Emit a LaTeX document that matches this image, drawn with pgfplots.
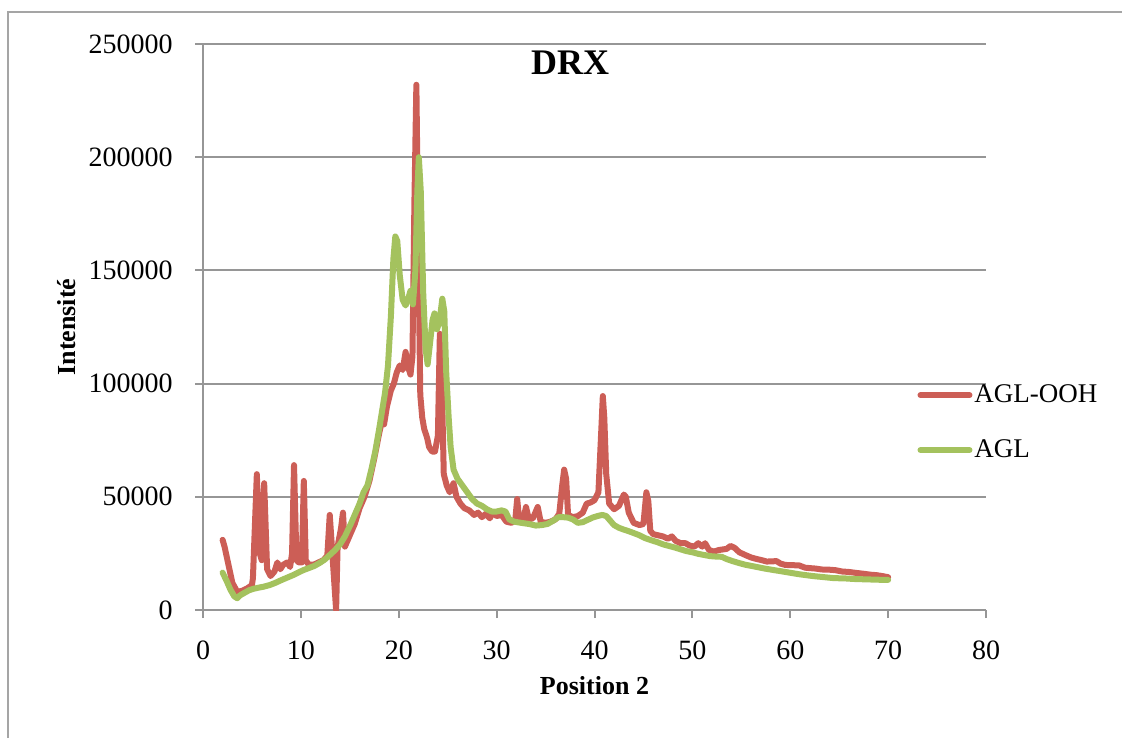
\documentclass[border=0pt]{standalone}
\usepackage{fontspec}
\setmainfont{Liberation Serif}
\usepackage{pgfplots}
\pgfplotsset{compat=1.18}
\definecolor{redS}{RGB}{204,94,86}
\definecolor{greenS}{RGB}{164,194,94}
\definecolor{gridc}{RGB}{150,150,150}
\definecolor{framec}{RGB}{165,165,165}
\begin{document}
\begin{tikzpicture}
\useasboundingbox (0,0) rectangle (561pt,369pt);
\draw[framec, line width=1pt] (4pt,0pt) -- (4pt,363pt) -- (561pt,363pt);
\begin{axis}[
  at={(101.5pt,64pt)}, anchor=south west,
  scale only axis, width=391.5pt, height=283pt,
  xmin=0, xmax=80, ymin=0, ymax=250000,
  xtick={0,10,...,80}, ytick={0,50000,...,250000},
  scaled y ticks=false,
  /pgf/number format/fixed, /pgf/number format/1000 sep={},
  /pgf/number format/assume math mode=true,
  axis x line*=bottom, axis y line*=left,
  axis line style={gridc, line width=1pt, -},
  ymajorgrids, major grid style={gridc, line width=1pt},
  tick align=outside, major tick length=4pt,
  tick style={gridc, line width=1pt},
  tick label style={font=\fontsize{14}{16}\selectfont, black},
  yticklabel style={xshift=-7.7pt},
  xticklabel style={yshift=-7.7pt},
  title={DRX},
  title style={at={(axis description cs:0.469,0.946)}, anchor=center, font=\bfseries\fontsize{18}{20}\selectfont},
  xlabel={Position 2},
  xlabel style={at={(axis description cs:0.5,-0.134)}, anchor=center, font=\bfseries\fontsize{13}{15}\selectfont},
  ylabel={Intensité},
  ylabel style={at={(axis description cs:-0.174,0.5)}, anchor=center, font=\bfseries\fontsize{13}{15}\selectfont},
  legend style={at={(axis description cs:0.912,0.331)}, anchor=west, draw=none, fill=none,
    font=\fontsize{13.5}{16}\selectfont, row sep=15pt, inner sep=0pt,
    nodes={inner sep=1pt}},
  legend cell align=left,
  legend image code/.code={\draw[#1, line width=3pt, line cap=round] (1.5pt,0pt) -- (26pt,0pt);},
  every axis plot/.append style={line width=3pt, line join=round, line cap=round},
]
\addplot[redS, mark=none] coordinates {
(2.0,31000)(2.2,28000)(2.5,22000)(3.0,12000)(3.5,8000)(4.0,8500)(4.5,9500)(5.0,11000)(5.1,14000)
(5.5,60000)(5.8,25000)(6.0,22000)(6.25,56000)(6.55,18000)(6.9,15000)(7.3,17000)(7.6,21000)(7.9,18000)
(8.2,20000)(8.6,21000)(8.9,19000)(9.1,25000)(9.3,64000)(9.55,22000)(9.8,21000)(10.1,21000)(10.3,57000)
(10.5,22000)(10.8,20000)(11.3,20000)(11.8,21000)(12.3,22000)(12.7,24000)(12.95,42000)(13.2,26000)
(13.6,0)(13.75,28000)(14.1,36000)(14.3,43000)(14.5,28000)(14.6,29000)(15.0,33000)(15.5,38000)(16.0,45000)
(16.5,50000)(17.0,57000)(17.5,67000)(18.0,78000)(18.3,84000)(18.5,82000)(18.8,90000)(19.2,97000)
(19.5,100000)(19.8,105000)(20.1,108000)(20.4,106000)(20.7,114000)(20.9,108000)(21.2,104000)(21.4,112000)
(21.6,180000)(21.8,232000)(22.0,160000)(22.2,95000)(22.4,85000)(22.6,80000)(22.9,76000)(23.1,72000)
(23.4,70000)(23.7,70000)(24.0,77000)(24.2,122000)(24.4,100000)(24.6,60000)(24.9,55000)(25.2,52000)
(25.6,56000)(25.9,50000)(26.3,47000)(26.7,45000)(27.2,44000)(27.7,42000)(28.1,43000)(28.5,41000)
(28.9,42500)(29.3,40500)(29.6,43000)(30.0,41500)(30.5,42000)(31.0,39000)(31.5,38500)(31.9,39500)
(32.1,49000)(32.3,40000)(32.7,39500)(33.0,45500)(33.3,40000)(33.7,40500)(34.2,45500)(34.5,39000)
(35.0,38500)(35.5,39000)(36.0,40000)(36.4,42500)(36.7,55000)(36.9,62000)(37.1,58000)(37.3,42000)
(37.8,41000)(38.3,41500)(38.8,43000)(39.2,47000)(39.6,47500)(40.0,48500)(40.4,52000)(40.7,80000)
(40.85,94500)(41.0,85000)(41.2,60000)(41.5,47000)(42.0,44500)(42.5,46000)(43.0,51000)(43.2,50000)
(43.5,43000)(44.0,38500)(44.6,37500)(45.0,38000)(45.3,52000)(45.5,48000)(45.7,35000)(46.0,33500)
(46.5,33000)(47.0,32500)(47.5,31500)(47.9,32500)(48.3,30500)(48.8,29500)(49.3,29500)(49.7,28500)
(50.2,28000)(50.6,29500)(51.0,28000)(51.3,29500)(51.7,26500)(52.2,25800)(52.7,26500)(53.2,26800)
(53.5,27000)(53.9,28300)(54.3,27500)(54.8,25500)(55.4,24300)(56.0,23200)(56.5,22600)(57.1,22000)
(57.6,21400)(58.2,21500)(58.6,21600)(59.0,20500)(59.5,19900)(60.2,19800)(60.9,19700)(61.5,18700)
(62.0,18500)(62.6,18300)(63.2,17900)(64.0,17800)(64.6,17600)(65.3,17000)(66.0,16800)(66.7,16400)
(67.5,16000)(68.2,15600)(68.8,15400)(69.4,15000)(70.0,14500)
};
\addlegendentry{AGL-OOH}
\addplot[greenS, mark=none] coordinates {
(2.0,16500)(2.4,13000)(2.8,9000)(3.2,6000)(3.5,5200)(3.8,6500)(4.2,7500)(4.7,8700)(5.1,9300)
(5.6,9800)(6.2,10300)(6.8,11000)(7.4,12000)(8.0,13200)(8.6,14300)(9.2,15400)(9.8,16700)(10.3,17700)
(10.8,18500)(11.4,19500)(12.0,21000)(12.5,22500)(13.0,24500)(13.5,26500)(14.0,29000)(14.5,32500)
(15.1,38000)(15.6,43000)(16.0,47000)(16.4,52000)(16.8,55000)(17.2,62000)(17.6,70000)(18.0,80000)
(18.3,88000)(18.6,96000)(18.9,108000)(19.2,130000)(19.45,155000)(19.65,165000)(19.85,163000)
(20.1,148000)(20.4,137000)(20.7,134500)(21.0,138000)(21.2,141000)(21.45,135000)(21.7,150000)
(21.9,185000)(22.05,200000)(22.25,185000)(22.5,140000)(22.75,115000)(22.95,108500)(23.2,118000)
(23.45,128000)(23.65,131000)(23.9,124000)(24.15,127000)(24.45,137500)(24.65,132000)(24.85,105000)
(25.1,85000)(25.3,72000)(25.6,62000)(26.0,58000)(26.5,55000)(27.0,52000)(27.5,49000)(28.0,47000)
(28.5,46000)(29.0,44500)(29.5,43500)(30.0,43500)(30.5,44000)(30.9,43500)(31.3,40000)(31.8,39000)
(32.5,38500)(33.3,38000)(34.0,37300)(34.6,37500)(35.2,38000)(35.8,39500)(36.3,41000)(36.8,41000)
(37.3,40800)(37.8,40000)(38.3,38500)(38.8,38800)(39.3,39800)(39.8,40800)(40.3,41500)(40.8,42000)
(41.2,41500)(41.6,39500)(42.0,37500)(42.5,36300)(43.0,35500)(43.5,34800)(44.0,34000)(44.6,33000)
(45.2,31700)(45.8,30800)(46.4,30000)(47.0,29000)(47.6,28300)(48.2,27600)(48.8,26800)(49.4,26000)
(50.0,25500)(50.6,24800)(51.2,24300)(51.8,23800)(52.4,23600)(53.0,23500)(53.5,22500)(54.1,21600)
(54.8,20700)(55.4,20000)(56.0,19500)(56.7,18900)(57.4,18300)(58.1,17800)(58.8,17300)(59.5,16800)
(60.2,16300)(60.9,15800)(61.6,15400)(62.3,15000)(63.0,14700)(63.7,14400)(64.4,14100)(65.1,14000)
(65.8,13900)(66.5,13700)(67.2,13600)(68.0,13500)(68.8,13400)(69.5,13300)(70.0,13300)
};
\addlegendentry{AGL}
\end{axis}
\end{tikzpicture}
\end{document}
